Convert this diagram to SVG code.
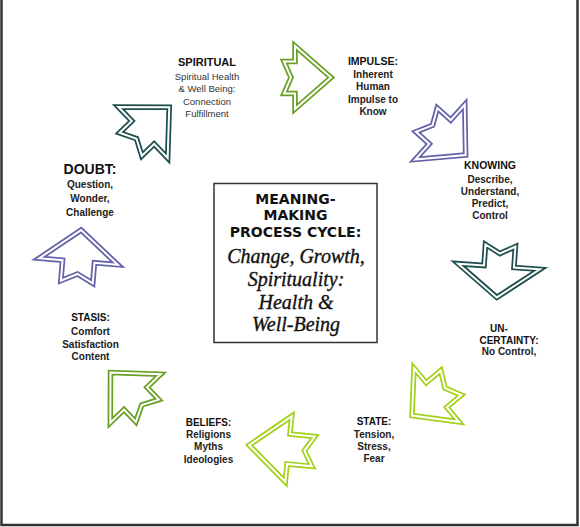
<svg xmlns="http://www.w3.org/2000/svg" width="580" height="527" viewBox="0 0 580 527">
<style>
.o{fill:none;stroke-width:5.5;stroke-linejoin:miter;stroke-miterlimit:8}
.i{fill:none;stroke:#fff;stroke-width:2;stroke-linejoin:miter;stroke-miterlimit:8}
.green{stroke:#67a022}
.lime{stroke:#a2d11a}
.teal{stroke:#1f4e4e}
.purple{stroke:#6262a8}
.h{font-family:"Liberation Sans",Arial,sans-serif;font-weight:bold;fill:#111;text-anchor:middle}
.s{font-family:"Liberation Sans",Arial,sans-serif;font-weight:bold;fill:#222;text-anchor:middle;font-size:10px}
.r{font-family:"Liberation Sans",Arial,sans-serif;fill:#333;text-anchor:middle;font-size:9.5px}
.bh{font-family:"DejaVu Sans",Verdana,sans-serif;font-weight:bold;fill:#111;text-anchor:middle;font-size:14px}
.sc{font-family:"Liberation Serif","Times New Roman",serif;font-style:italic;fill:#111;stroke:#111;stroke-width:0.35;text-anchor:middle;font-size:20px}
</style>
<rect x="0" y="0" width="580" height="527" fill="#fff"/>
<path d="M1.5,0 V525 H577.5 V0" fill="none" stroke="#333" stroke-width="2.5"/>

<g id="connectors">
  <g id="arrow-impulse" transform="translate(295,77.5)">
    <path class="o green" d="M-11,-16 L0,-16 L0,-31.5 L36,0 L0,31.5 L0,16 L-11,16 L-4,0 Z"/>
    <path class="i" d="M-11,-16 L0,-16 L0,-31.5 L36,0 L0,31.5 L0,16 L-11,16 L-4,0 Z"/>
  </g>
  <g id="arrow-knowing" transform="translate(440,132) rotate(42)">
    <path class="o purple" d="M-18,-16 L0,-16 L0,-37 L34.5,0 L0,37 L0,16 L-18,16 L-10,0 Z"/>
    <path class="i" d="M-18,-16 L0,-16 L0,-37 L34.5,0 L0,37 L0,16 L-18,16 L-10,0 Z"/>
  </g>
  <g id="arrow-uncertainty" transform="translate(499,266.5) rotate(94)">
    <path class="o teal" d="M-21,-15 L0,-15 L0,-41 L31,0 L0,41 L0,15 L-21,15 L-13,0 Z"/>
    <path class="i" d="M-21,-15 L0,-15 L0,-41 L31,0 L0,41 L0,15 L-21,15 L-13,0 Z"/>
  </g>
  <g id="arrow-state" transform="translate(436.5,395) rotate(140)">
    <path class="o lime" d="M-19,-16 L0,-16 L0,-35 L32,0 L0,35 L0,16 L-19,16 L-11,0 Z"/>
    <path class="i" d="M-19,-16 L0,-16 L0,-35 L32,0 L0,35 L0,16 L-19,16 L-11,0 Z"/>
  </g>
  <g id="arrow-beliefs" transform="translate(288.5,449) rotate(185.6)">
    <path class="o lime" d="M-25,-15 L0,-15 L0,-33 L39.5,0 L0,33 L0,15 L-25,15 L-16,0 Z"/>
    <path class="i" d="M-25,-15 L0,-15 L0,-33 L39.5,0 L0,33 L0,15 L-25,15 L-16,0 Z"/>
  </g>
  <g id="arrow-stasis" transform="translate(135.5,398.5) rotate(226)">
    <path class="o green" d="M-17,-16 L0,-16 L0,-35 L36,0 L0,35 L0,16 L-17,16 L-9,0 Z"/>
    <path class="i" d="M-17,-16 L0,-16 L0,-35 L36,0 L0,35 L0,16 L-17,16 L-9,0 Z"/>
  </g>
  <g id="arrow-doubt" transform="translate(78.5,261.5) rotate(274.7)">
    <path class="o purple" d="M-20.5,-16 L0,-16 L0,-39.5 L31.5,0 L0,39.5 L0,16 L-20.5,16 L-12.5,0 Z"/>
    <path class="i" d="M-20.5,-16 L0,-16 L0,-39.5 L31.5,0 L0,39.5 L0,16 L-20.5,16 L-12.5,0 Z"/>
  </g>
  <g id="arrow-spiritual" transform="translate(143,132.5) rotate(316)">
    <path class="o teal" d="M-17,-16 L0,-16 L0,-35.5 L36.5,0 L0,35.5 L0,16 L-17,16 L-9,0 Z"/>
    <path class="i" d="M-17,-16 L0,-16 L0,-35.5 L36.5,0 L0,35.5 L0,16 L-17,16 L-9,0 Z"/>
  </g>
</g>

<g id="node-spiritual">
  <text class="h" x="207" y="66" font-size="11">SPIRITUAL</text>
  <text class="r" x="207" y="80">Spiritual Health</text>
  <text class="r" x="207" y="92">&amp; Well Being:</text>
  <text class="r" x="207" y="105">Connection</text>
  <text class="r" x="207" y="117">Fulfillment</text>
</g>
<g id="node-impulse">
  <text class="h" x="373" y="65" font-size="10.5">IMPULSE:</text>
  <text class="s" x="373" y="78">Inherent</text>
  <text class="s" x="373" y="90">Human</text>
  <text class="s" x="373" y="103">Impulse to</text>
  <text class="s" x="373" y="115">Know</text>
</g>
<g id="node-knowing">
  <text class="h" x="490" y="169" font-size="10.5">KNOWING</text>
  <text class="s" x="490" y="182.5">Describe,</text>
  <text class="s" x="490" y="194.5">Understand,</text>
  <text class="s" x="490" y="206.5">Predict,</text>
  <text class="s" x="490" y="218.5">Control</text>
</g>
<g id="node-uncertainty">
  <text class="h" x="499" y="332" font-size="10">UN-</text>
  <text class="h" x="509" y="343.5" font-size="10">CERTAINTY:</text>
  <text class="s" x="509" y="355">No Control,</text>
</g>
<g id="node-state">
  <text class="h" x="374" y="425" font-size="10">STATE:</text>
  <text class="s" x="374" y="438">Tension,</text>
  <text class="s" x="374" y="450">Stress,</text>
  <text class="s" x="374" y="462">Fear</text>
</g>
<g id="node-beliefs">
  <text class="h" x="208.5" y="425.5" font-size="10">BELIEFS:</text>
  <text class="s" x="208.5" y="437.5">Religions</text>
  <text class="s" x="208.5" y="450">Myths</text>
  <text class="s" x="208.5" y="462.5">Ideologies</text>
</g>
<g id="node-stasis">
  <text class="h" x="90.5" y="321" font-size="10">STASIS:</text>
  <text class="s" x="90.5" y="335" font-size="10.5">Comfort</text>
  <text class="s" x="90.5" y="347.5" font-size="10.5">Satisfaction</text>
  <text class="s" x="90.5" y="360" font-size="10.5">Content</text>
</g>
<g id="node-doubt">
  <text class="h" x="90" y="173.5" font-size="14">DOUBT:</text>
  <text class="s" x="90" y="187.5" font-size="11">Question,</text>
  <text class="s" x="90" y="201.5" font-size="11">Wonder,</text>
  <text class="s" x="90" y="215.5" font-size="11">Challenge</text>
</g>
<g id="node-center">
  <rect x="214" y="183.5" width="163" height="159" fill="#fff" stroke="#333" stroke-width="1.5"/>
  <text class="bh" x="295.5" y="204">MEANING-</text>
  <text class="bh" x="295.5" y="220">MAKING</text>
  <text class="bh" x="295.5" y="237">PROCESS CYCLE:</text>
  <text class="sc" x="296" y="263">Change, Growth,</text>
  <text class="sc" x="296" y="286">Spirituality:</text>
  <text class="sc" x="296" y="309">Health &amp;</text>
  <text class="sc" x="296" y="331">Well-Being</text>
</g>
</svg>
